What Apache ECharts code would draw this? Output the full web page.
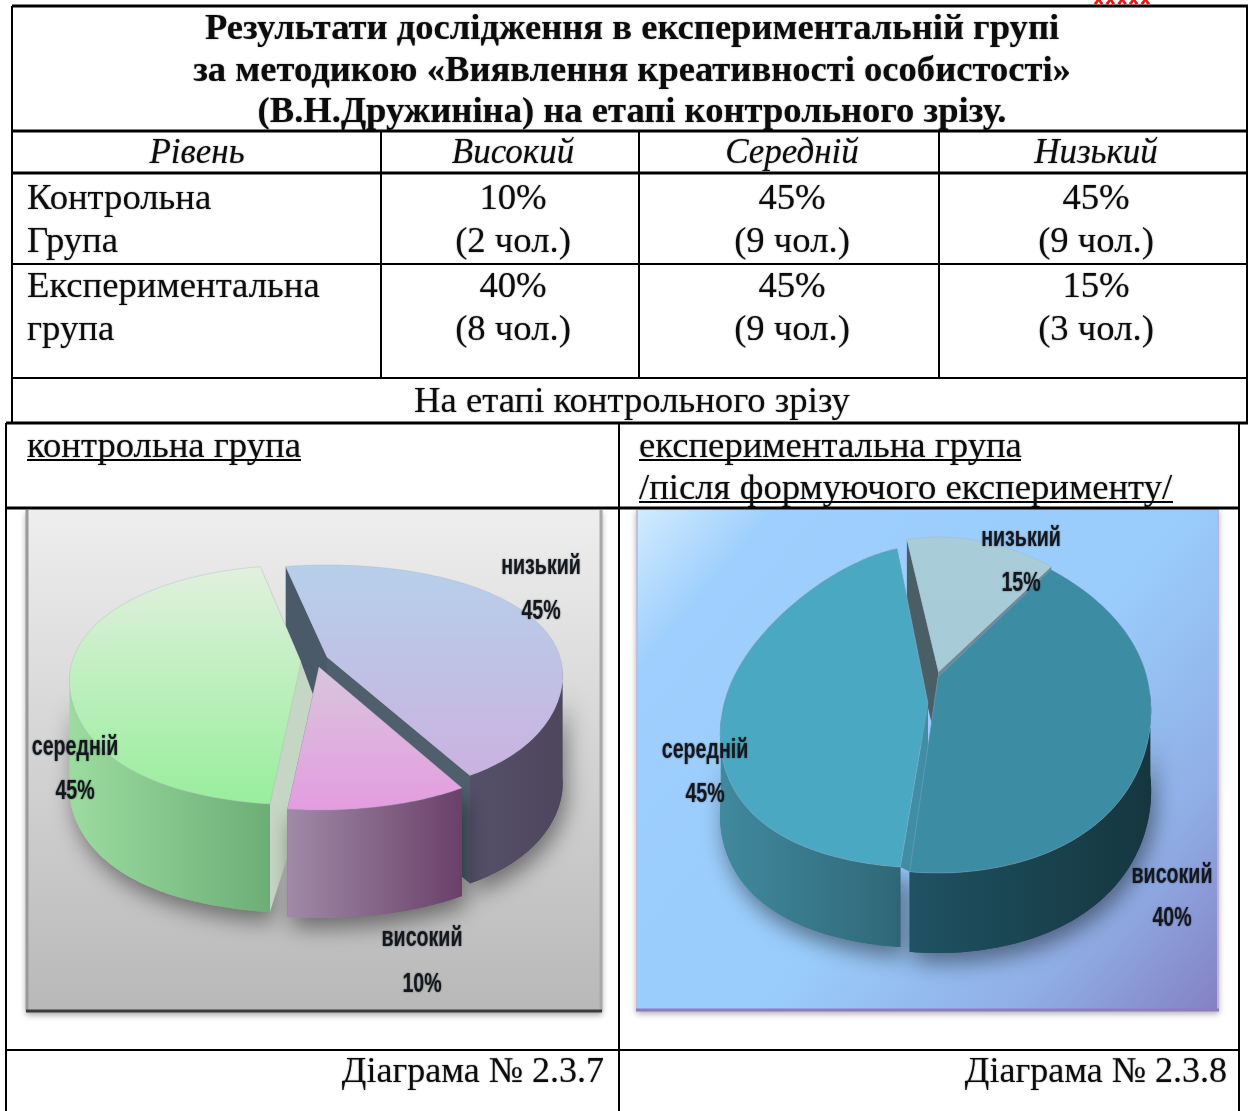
<!DOCTYPE html>
<html>
<head>
<meta charset="utf-8">
<style>html,body{margin:0;background:#fff}#chart{width:1250px;height:1111px}</style>
<script src="https://cdn.jsdelivr.net/npm/echarts@6/dist/echarts.min.js"></script>
</head>
<body>
<div id="chart"></div>
<script>
var titleLines = ['Результати дослідження в експериментальній групі', 'за методикою «Виявлення креативності особистості»', '(В.Н.Дружиніна) на етапі контрольного зрізу.']
var headerCells = ['Рівень', 'Високий', 'Середній', 'Низький']
var pieLevels = ['високий', 'середній', 'низький']
var controlPercent = [10, 45, 45]
var controlPeople = [2, 9, 9]
var experimentPercent = [40, 45, 15]
var experimentPeople = [8, 9, 3]

var serif = '"Liberation Serif"'
var chart = echarts.init(document.getElementById('chart'), null, { renderer: 'canvas' })

// slices go clockwise from the start angle: низький, високий, середній
var sliceOrder = [2, 0, 1]
var drawOrder = { 2: 1, 1: 2, 0: 3 }

var leftPie = {
  start: -12, depth: 108, b: 0.15, kT: 0, kB: 0.3,
  wallNudge: { 1: [14, 38] },
  geo: {
    2: { cx: 327, cy: 657, rx: 233, ryT: 92, ryB: 140 },
    0: { cx: 319, cy: 667, rx: 233, ryT: 92, ryB: 143 },
    1: { cx: 301, cy: 662, rx: 229, ryT: 97, ryB: 143 }
  },
  colors: {
    2: { top: ['#b6d0ea', '#cab2e0'], side: ['#55506a', '#4e465c'], wallA: '#4a5a68', wallB: '#4f5f6c' },
    0: { top: ['#d8c6dc', '#e49ce0'], side: ['#a08aa8', '#6a4068'], wallA: '#6a4068', wallB: '#8a7090' },
    1: { top: ['#e2f0de', '#98ee9c'], side: ['#9cdca0', '#6cae76'], wallA: '#c6d6c4', wallB: '#c6d6c4' }
  },
  labels: { 2: [541, 566, 611], 0: [422, 938, 984], 1: [75, 747, 791] }
}
var rightPie = {
  start: -12, depth: 80, b: 0.2, kT: 0.08, kB: 0.3,
  shortWall: { 1: true },
  geo: {
    2: { cx: 938.5, cy: 672, rx: 209, ryT: 135, ryB: 190 },
    0: { cx: 938, cy: 677, rx: 209, ryT: 137, ryB: 196 },
    1: { cx: 928, cy: 703, rx: 204, ryT: 158, ryB: 165 }
  },
  colors: {
    2: { top: ['#a8ccd8', '#a6cad6'], side: ['#5c7880', '#5c7880'], wallA: '#4a5e66', wallB: '#6e8a90' },
    0: { top: ['#3c8ca4', '#3c8ca4'], side: ['#1f5262', '#15363f'], wallA: '#3f8ea6', wallB: '#3f8ea6' },
    1: { top: ['#4aa8c2', '#4aa8c2'], side: ['#41899e', '#2f6878'], wallA: '#3f8ea6', wallB: '#3f8ea6' }
  },
  labels: { 2: [1021, 538, 583], 0: [1172, 875, 918], 1: [705, 750, 794] }
}

// squashed circle with a bit of perspective: the near half is wider and taller
function project(g, layout, angle) {
  var a = angle * Math.PI / 180
  var u = Math.sin(a)
  var v = -Math.cos(a)
  var f = v < 0
    ? 1 + layout.b * v - layout.kT * v * v
    : 1 + layout.b * v * (1 - v * v) + layout.kB * v * v * v
  var ryA = (g.ryB + g.ryT) / 2
  var ryC = (g.ryB - g.ryT) / 2
  return [g.cx + g.rx * u * f, g.cy + ryA * v + ryC * v * v]
}

function grad(c, vertical) {
  return new echarts.graphic.LinearGradient(0, 0, vertical ? 0 : 1, vertical ? 1 : 0, [
    { offset: 0, color: c[0] }, { offset: 1, color: c[1] }
  ])
}

function pieRenderItem(layout, percents) {
  return function (params, api) {
    var idx = api.value(0)
    var from = layout.start
    for (var i = 0; i < sliceOrder.length; i++) {
      if (sliceOrder[i] === idx) break
      from += percents[sliceOrder[i]] * 3.6
    }
    var to = from + api.value(1) * 3.6
    var g = layout.geo[idx]
    var c = layout.colors[idx]
    var d = layout.depth
    var arc = []
    var front = []
    var n = Math.ceil(to - from)
    for (var j = 0; j <= n; j++) {
      var ang = from + (to - from) * j / n
      var p = project(g, layout, ang)
      arc.push(p)
      // only the near half of the rim shows a side
      if (-Math.cos(ang * Math.PI / 180) >= 0.1) front.push(p)
    }
    var low = front.map(function (p) { return [p[0], p[1] + d] }).reverse()
    var center = [g.cx, g.cy]
    var below = [g.cx, g.cy + d]
    var first = arc[0]
    var last = arc[arc.length - 1]
    var z = drawOrder[idx] * 10
    var lab = layout.labels[idx]

    var startWall = [center, first, [first[0], first[1] + d], below]
    if (layout.shortWall && layout.shortWall[idx]) {
      startWall = [center, first, [first[0] + 12, first[1] + 6], below]
    }
    if (layout.wallNudge && layout.wallNudge[idx]) {
      var nudge = layout.wallNudge[idx]
      startWall = [center, first, [first[0], first[1] + d], [below[0] + nudge[0], below[1]], [center[0] + nudge[0], center[1] + nudge[1]]]
    }

    function poly(points, style, zz) {
      return { type: 'polygon', shape: { points: points }, style: style, z2: z + zz, silent: true }
    }
    function label(text, y) {
      return {
        type: 'text', x: lab[0], y: y, scaleX: 0.7, z2: 100,
        style: {
          text: text, fill: '#14181e', font: 'bold 28px "Liberation Sans"',
          align: 'center', verticalAlign: 'middle',
          textShadowColor: 'rgba(20,24,30,0.6)', textShadowBlur: 2
        }
      }
    }
    return {
      type: 'group',
      children: [
        poly(front.concat(low), {
          fill: grad(c.side, false),
          shadowColor: 'rgba(0,0,0,0.45)', shadowBlur: 22, shadowOffsetX: 4, shadowOffsetY: 10
        }, 0),
        poly(startWall, { fill: c.wallA }, 1),
        poly([center, last, [last[0], last[1] + d], below], { fill: c.wallB }, 1),
        poly(front.concat(low), { fill: grad(c.side, false) }, 2),
        poly([center].concat(arc), { fill: grad(c.top, true), stroke: 'rgba(170,170,200,0.35)', lineWidth: 1 }, 3),
        label(pieLevels[idx], lab[1]),
        label(api.value(1) + '%', lab[2])
      ]
    }
  }
}

function pieSeries(layout, percents) {
  return {
    type: 'custom',
    coordinateSystem: 'none',
    silent: true,
    z: 5,
    renderItem: pieRenderItem(layout, percents),
    // високий last so it sits in front of the other two
    data: [2, 1, 0].map(function (i) { return [i, percents[i]] }),
    encode: { value: 1 }
  }
}

var els = []
function line(x1, y1, x2, y2, w, color) {
  els.push({ type: 'line', z: 3, shape: { x1: x1, y1: y1, x2: x2, y2: y2 }, style: { stroke: color || '#000', lineWidth: w } })
}
function text(str, x, y, align, font) {
  els.push({
    type: 'text', z: 8, x: x, y: y,
    style: {
      text: str, font: font || ('36.7px ' + serif), fill: '#0c0c0c', align: align, verticalAlign: 'middle',
      textShadowColor: 'rgba(0,0,0,0.5)', textShadowBlur: 1.5
    }
  })
}

// panels behind the pies
els.push({
  type: 'rect', z: 1, shape: { x: 26, y: 510, width: 576, height: 502 },
  style: {
    fill: new echarts.graphic.LinearGradient(0, 0, 0, 1, [{ offset: 0, color: '#eeeeee' }, { offset: 1, color: '#b8b8b8' }]),
    shadowColor: 'rgba(0,0,0,0.35)', shadowBlur: 6, shadowOffsetY: 3
  }
})
line(27, 510, 27, 1011, 3, '#9a9a9a')
line(601, 510, 601, 1011, 3, '#a8a8a8')
line(26, 1011, 602, 1011, 3, '#3c3c3c')
els.push({
  type: 'rect', z: 1, shape: { x: 636, y: 508, width: 583, height: 503 },
  style: {
    fill: new echarts.graphic.LinearGradient(0, 0, 1, 1, [
      { offset: 0, color: '#d2ecff' }, { offset: 0.14, color: '#9ecffd' }, { offset: 0.55, color: '#9accfb' },
      { offset: 0.8, color: '#90aee6' }, { offset: 1, color: '#8480c4' }
    ]),
    shadowColor: 'rgba(0,0,0,0.3)', shadowBlur: 6, shadowOffsetY: 3
  }
})
line(637, 510, 637, 1010, 2, '#bcc0dc')
line(1218, 510, 1218, 1010, 2, '#c0b4d4')
line(636, 1010, 1219, 1010, 3, '#8f7cbc')

// upper table
line(12, 6, 1248, 6, 3)
line(12, 131, 1248, 131, 3)
line(12, 173, 1248, 173, 3)
line(12, 264, 1248, 264, 2)
line(12, 378, 1248, 378, 2)
line(6, 423, 1248, 423, 3)
line(12, 6, 12, 423, 2)
line(1247, 6, 1247, 423, 2)
;[381, 639, 939].forEach(function (x) { line(x, 131, x, 378, 2) })

// lower table
line(6, 423, 6, 1111, 2)
line(619, 423, 619, 1111, 2)
line(1239, 423, 1239, 1111, 2)
line(6, 508, 1240, 508, 3)
line(6, 1050, 1240, 1050, 2)
line(27, 460, 301, 460, 2)
line(639, 460, 1021, 460, 2)
line(639, 502, 1173, 502, 2)

// spell-check stars cut off by the top edge of the scan
els.push({
  type: 'text', z: 8, x: 1122, y: -9,
  style: { text: '*****', font: 'bold 30px "Liberation Sans"', fill: '#e41a1a', align: 'center', verticalAlign: 'top' }
})

titleLines.forEach(function (t, i) { text(t, 632, [30, 72, 113][i], 'center', 'bold 36.6px ' + serif) })
var colX = [197, 513, 792, 1096]
headerCells.forEach(function (t, i) { text(t, colX[i], 154, 'center', 'italic 35px ' + serif) })
text('Контрольна', 27, 199, 'left')
text('Група', 27, 242, 'left')
text('Експериментальна', 27, 287, 'left')
text('група', 27, 330, 'left')
for (var i = 0; i < 3; i++) {
  text(controlPercent[i] + '%', colX[i + 1], 199, 'center')
  text('(' + controlPeople[i] + ' чол.)', colX[i + 1], 242, 'center')
  text(experimentPercent[i] + '%', colX[i + 1], 287, 'center')
  text('(' + experimentPeople[i] + ' чол.)', colX[i + 1], 330, 'center')
}
text('На етапі контрольного зрізу', 632, 402, 'center')
text('контрольна група', 27, 447, 'left')
text('експериментальна група', 639, 447, 'left')
text('/після формуючого експерименту/', 639, 489, 'left')
text('Діаграма № 2.3.7', 604, 1073, 'right', '36px ' + serif)
text('Діаграма № 2.3.8', 1227, 1073, 'right', '36px ' + serif)

chart.setOption({
  animation: false,
  backgroundColor: '#ffffff',
  graphic: { elements: els },
  series: [pieSeries(leftPie, controlPercent), pieSeries(rightPie, experimentPercent)]
})
</script>
</body>
</html>
